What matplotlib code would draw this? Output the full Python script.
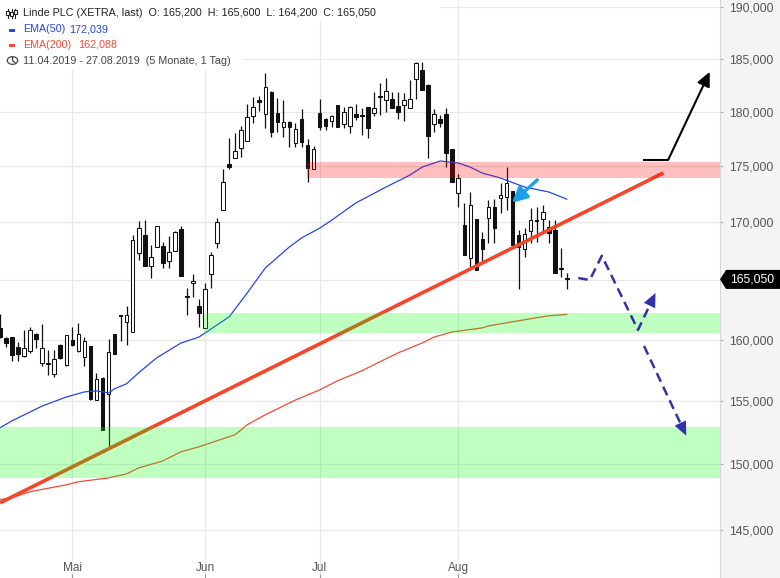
import matplotlib
matplotlib.use('Agg')
import matplotlib.pyplot as plt
import matplotlib.transforms as mtransforms
from matplotlib.patches import Rectangle, Polygon, Circle
from matplotlib.lines import Line2D
from matplotlib.ticker import FixedLocator, FixedFormatter, NullLocator, NullFormatter
import numpy as np

plt.rcParams['font.family'] = ['Liberation Sans', 'DejaVu Sans']

# ---------------- data ----------------
opens = [160970, 160130, 160200, 159390, 158660, 159065, 160460, 158090, 158090, 157200,
         159550, 157930, 159960, 159065, 158580, 159470, 155080, 156870, 155570, 160460,
         162060, 161470, 160630, 167340, 168890, 166210, 167850, 167940, 166640, 167510,
         169410, 163660, 164750, 162820, 160970, 165520, 168200, 171090, 175195, 175745,
         176660, 177300, 179600, 181100, 179780, 181850, 179870, 178590, 179050, 177120,
         179320, 176940, 174740, 179870, 179320, 179140, 180620, 178860, 178680, 179780,
         179690, 180430, 179870, 181470, 181100, 181190, 180530, 180620, 180340, 183080,
         183920, 182510, 178860, 179320, 179780, 176570, 172600, 169760, 166900, 170290,
         168550, 170380, 171350, 172160, 172250, 172780, 168890, 167680, 169240, 170200,
         170290, 169590, 169330, 166040, 165200]
highs = [162150, 160200, 160250, 159800, 160800, 161050, 160550, 161300, 159150, 159150,
         159600, 160400, 161050, 161390, 160210, 159500, 157270, 156900, 160040, 160500,
         162080, 162820, 168890, 170110, 170200, 168030, 169700, 168290, 168810, 169200,
         169670, 164330, 165520, 163400, 164750, 167420, 170380, 174740, 177580, 178040,
         178680, 180720, 181380, 181470, 183640, 181900, 181280, 181100, 179140, 178950,
         180240, 177490, 176850, 181190, 179410, 179690, 180660, 180430, 180530, 180720,
         180340, 180470, 181850, 182700, 183170, 181850, 181850, 181760, 182980, 184650,
         184680, 182550, 180240, 179690, 180340, 176600, 174300, 171710, 172690, 170320,
         169150, 171980, 172070, 173490, 174920, 172800, 169330, 169500, 171260, 171350,
         171530, 170200, 170200, 167770, 165600]
lows = [160150, 159390, 158250, 158250, 158580, 158900, 159310, 157850, 157110, 156950,
        158415, 157850, 159500, 159000, 157850, 155100, 155050, 152700, 151290, 158800,
        159880, 159550, 160600, 166730, 166200, 165170, 167800, 166040, 166040, 167480,
        165330, 162060, 163570, 161050, 160950, 164330, 167770, 171050, 174740, 175700,
        175840, 177280, 178950, 180060, 178500, 177670, 178130, 177670, 176750, 176750,
        176750, 173580, 174700, 178310, 178310, 178590, 178560, 178500, 178040, 179230,
        177850, 177580, 179600, 179690, 179960, 180300, 179320, 179140, 180300, 181190,
        182000, 175745, 178130, 178590, 174920, 173550, 171350, 167130, 166120, 165830,
        166470, 168200, 168200, 170820, 171090, 168000, 164240, 166990, 168200, 168290,
        169240, 168200, 165580, 165260, 164200]
closes = [160210, 159715, 158740, 158820, 159310, 160800, 160040, 159310, 158010, 158415,
          158500, 160380, 159550, 160460, 159880, 155160, 156790, 152710, 158980, 158820,
          161980, 162060, 168460, 169500, 166210, 166990, 169670, 166470, 167420, 169150,
          165350, 163570, 164920, 162230, 164240, 167160, 170020, 173580, 174920, 176390,
          178310, 179500, 180430, 180910, 182320, 178130, 179050, 179050, 178590, 178400,
          177210, 174830, 176570, 178590, 178680, 179600, 178590, 179960, 180430, 179500,
          179600, 178500, 180340, 181380, 181950, 180340, 179960, 181100, 181190, 184590,
          182040, 177760, 179780, 178950, 176200, 173580, 173940, 167160, 171530, 165860,
          167680, 171350, 169500, 172420, 173490, 168030, 167850, 168980, 170200, 170110,
          170910, 169070, 165610, 165950, 165050]

ema50_idx = [0, 2, 7, 11, 14, 16, 18, 19, 21, 23, 26, 30, 33, 34, 38, 41, 44, 48, 50,
             53, 55, 59, 64, 68, 70, 73, 76, 78, 80, 83, 87, 91, 94]
ema50_val = [152870, 153420, 154600, 155320, 155730, 155810, 155650, 155980, 156390,
             157280, 158500, 159710, 160210, 160540, 161890, 163900, 166030, 167850,
             168620, 169480, 170180, 171700, 173120, 174200, 174910, 175470, 175280,
             174910, 174370, 173930, 173120, 172680, 172039]

ema200_idx = [0, 2, 5, 11, 13, 18, 21, 23, 27, 30, 33, 35, 39, 41, 44, 49, 53, 56, 60,
              63, 66, 70, 72, 75, 80, 81, 86, 91, 94]
ema200_val = [147300, 147440, 147900, 148430, 148660, 148960, 149270, 149730, 150270,
              150980, 151370, 151690, 152320, 153110, 153900, 155080, 155890, 156630,
              157440, 158170, 158900, 159715, 160210, 160630, 160970, 161130, 161560,
              161980, 162088]

trend_idx = [0, 110]
trend_val = [147050, 174385]

# zones: (start index, low, high, colour)
zone_start = [50.9, 33.9, 0]
zone_low = [173900, 160530, 148960]
zone_high = [175400, 162200, 152930]
zone_color = ['red', 'lime', 'lime']

month_labels = ['Mai', 'Jun', 'Jul', 'Aug']
month_idx = [12, 34, 53, 76]

price_ticks = [145000, 150000, 155000, 160000, 165000, 170000, 175000, 180000, 185000, 190000]
price_labels = ['145,000', '150,000', '155,000', '160,000', '', '170,000', '175,000',
                '180,000', '185,000', '190,000']
last_price = 165050
last_label = '165,050'

# annotation paths
black_arrow_idx = [106.6, 110.8, 117.7]
black_arrow_val = [175560, 175560, 183740]
dash1_idx = [95.9, 97.8, 99.8, 105.8, 108.7]
dash1_val = [165170, 165000, 167080, 160800, 163900]
dash2_idx = [106.8, 113.8]
dash2_val = [159470, 152250]
cyan_idx = [89.1, 84.9]
cyan_val = [173760, 171710]

title_txt = 'Linde PLC (XETRA, last)  O: 165,200  H: 165,600  L: 164,200  C: 165,050'
ema50_txt = ('EMA(50)', '172,039')
ema200_txt = ('EMA(200)', '162,088')
range_txt = '11.04.2019 - 27.08.2019  (5 Monate, 1 Tag)'

# ---------------- figure ----------------
W, H = 780, 578
PLOT_W = 720
fig = plt.figure(figsize=(W / 100, H / 100), dpi=100, facecolor='#f4f4f4')
ax = fig.add_axes([0, 0, PLOT_W / W, 1])
ax.set_facecolor('white')
ax.set_yscale('log')
ax.set_xlim(0, 119.4)
ax.set_ylim(141450, 190690)
for s in ['top', 'left', 'bottom']:
    ax.spines[s].set_visible(False)
ax.spines['right'].set_color('#d6d6d6')
ax.spines['right'].set_linewidth(0.8)

def fx(x):
    return x / W

def fy(y):
    return 1 - y / H

# grid
for v in price_ticks:
    ax.axhline(v, color='#e8e8e8', lw=0.9, zorder=0)
for m in month_idx:
    ax.axvline(m, color='#e8e8e8', lw=0.9, zorder=0)

# y axis on the right
ax.yaxis.tick_right()
ax.yaxis.set_major_locator(FixedLocator(price_ticks))
ax.yaxis.set_major_formatter(FixedFormatter(price_labels))
ax.yaxis.set_minor_locator(NullLocator())
ax.yaxis.set_minor_formatter(NullFormatter())
ax.tick_params(axis='y', which='major', length=2.3, width=0.8, color='#aaaaaa',
               labelcolor='#555555', labelsize=8.8, pad=4.6, direction='out')

# x axis
ax.set_xticks(month_idx)
ax.set_xticklabels([])
ax.tick_params(axis='x', direction='in', length=2.8, width=0.8, color='#999999')
tr = mtransforms.blended_transform_factory(ax.transData, ax.transAxes)
for m, lab in zip(month_idx, month_labels):
    ax.text(m, 10 / H, lab, transform=tr, ha='center', va='center', fontsize=8.5,
            color='#555555')

# candles
bw = 0.6
for i, (o, h, l, c) in enumerate(zip(opens, highs, lows, closes)):
    ax.vlines(i, l, h, color='#111111', lw=0.9, zorder=3)
    lo, hi = min(o, c), max(o, c)
    up = c > o
    ax.add_patch(Rectangle((i - bw / 2, lo), bw, hi - lo,
                           facecolor='white' if up else '#111111',
                           edgecolor='#111111', lw=0.75, zorder=4))

# indicator lines
ax.plot(ema50_idx, ema50_val, color='#2446f2', lw=0.9, zorder=5)
ax.plot(ema200_idx, ema200_val, color='#f24b3a', lw=0.9, zorder=5)
ax.plot(trend_idx, trend_val, color='#f4462a', lw=2.6, zorder=5, solid_capstyle='butt')

# zones (semi transparent, on top)
for s, lo, hi, col in zip(zone_start, zone_low, zone_high, zone_color):
    ax.fill_between([s, 119.4], lo, hi, color=col, alpha=0.25, lw=0, zorder=6)

# black arrow
ax.plot(black_arrow_idx[:2], black_arrow_val[:2], color='black', lw=1.5, zorder=8,
        solid_capstyle='butt')
ax.annotate('', xy=(black_arrow_idx[2], black_arrow_val[2]),
            xytext=(black_arrow_idx[1], black_arrow_val[1]),
            arrowprops=dict(arrowstyle='-|>,head_length=0.85,head_width=0.4',
                            color='black', lw=1.5, shrinkA=0, shrinkB=0), zorder=8)

# cyan arrow
ax.annotate('', xy=(cyan_idx[1], cyan_val[1]), xytext=(cyan_idx[0], cyan_val[0]),
            arrowprops=dict(arrowstyle='-|>,head_length=0.9,head_width=0.45',
                            color='#1a9fe8', lw=2.4, shrinkA=0, shrinkB=0), zorder=8)

# dashed blue scenario arrows
dash_col = '#3333a8'

def dashed_arrow(xs, ys, frac):
    xs = list(xs)
    ys = list(ys)
    # dashed line ends at the base of the arrow head
    x_end = xs[-2] + frac * (xs[-1] - xs[-2])
    y_end = np.exp(np.log(ys[-2]) + frac * (np.log(ys[-1]) - np.log(ys[-2])))
    ax.plot(xs[:-1] + [x_end], ys[:-1] + [y_end], color=dash_col, lw=1.8,
            ls=(0, (3.8, 2.2)), zorder=8)
    ax.annotate('', xy=(xs[-1], ys[-1]), xytext=(xs[-2], ys[-2]),
                arrowprops=dict(arrowstyle='-|>,head_length=1.0,head_width=0.45',
                                color=dash_col, lw=0.01, shrinkA=0, shrinkB=0), zorder=8)

dashed_arrow(dash1_idx, dash1_val, 0.7)
dashed_arrow(dash2_idx, dash2_val, 0.88)

# ---------------- header ----------------
fig.add_artist(Rectangle((0, fy(70)), 242 / W, 70 / H, transform=fig.transFigure,
                         facecolor='white', edgecolor='none', zorder=2))
fig.add_artist(Rectangle((0, fy(21)), 440 / W, 21 / H, transform=fig.transFigure,
                         facecolor='white', edgecolor='none', zorder=2))

# candle icon
for cx, b0, b1 in [(7.5, 11, 15), (11.5, 12, 16), (15.5, 10, 14)]:
    fig.add_artist(Line2D([fx(cx), fx(cx)], [fy(8.5), fy(18)], transform=fig.transFigure,
                          color='#222222', lw=0.8, zorder=3))
    fig.add_artist(Rectangle((fx(cx - 1.3), fy(b1)), 2.6 / W, (b1 - b0) / H,
                             transform=fig.transFigure, facecolor='white',
                             edgecolor='#222222', lw=0.8, zorder=4))
fig.text(fx(23), fy(13.5), title_txt, fontsize=7.75, color='#222222', ha='left',
         va='center', zorder=5)

# EMA legend rows
fig.add_artist(Rectangle((fx(8.5), fy(31.5)), 6 / W, 3 / H, transform=fig.transFigure,
                         facecolor='#2446f2', edgecolor='none', zorder=3))
fig.text(fx(23), fy(29.5), ema50_txt[0], fontsize=7.75, color='#2446f2', ha='left',
         va='center', zorder=5)
fig.text(fx(69), fy(29.5), ema50_txt[1], fontsize=7.75, color='#2446f2', ha='left',
         va='center', zorder=5)
fig.add_artist(Rectangle((fx(8.5), fy(46.5)), 6 / W, 3 / H, transform=fig.transFigure,
                         facecolor='#f24b3a', edgecolor='none', zorder=3))
fig.text(fx(23), fy(44.5), ema200_txt[0], fontsize=7.75, color='#f24b3a', ha='left',
         va='center', zorder=5)
fig.text(fx(78), fy(44.5), ema200_txt[1], fontsize=7.75, color='#f24b3a', ha='left',
         va='center', zorder=5)

# clock icon + date range
fig.add_artist(Circle((fx(12.5), fy(60.5)), 5.2 / W, transform=fig.transFigure,
                      facecolor='none', edgecolor='#444444', lw=0.9, zorder=3))
fig.add_artist(Line2D([fx(12.5), fx(12.5), fx(15)], [fy(57), fy(60.5), fy(62.5)],
                      transform=fig.transFigure, color='#444444', lw=0.9, zorder=3))
fig.text(fx(23), fy(60.5), range_txt, fontsize=7.75, color='#444444', ha='left',
         va='center', zorder=5)

# last price tag on the right axis
fig.canvas.draw()
yc = ax.transData.transform((0, last_price))[1] / H
hh = 9.5 / H
tag = Polygon([(fx(720), yc), (fx(726), yc + hh), (1.0, yc + hh), (1.0, yc - hh),
               (fx(726), yc - hh)], closed=True, transform=fig.transFigure,
              facecolor='black', edgecolor='none', zorder=6)
fig.add_artist(tag)
fig.text(fx(730), yc, last_label, fontsize=8.8, color='white', ha='left', va='center',
         zorder=7)

fig.savefig('out.png', dpi=100, facecolor=fig.get_facecolor())
